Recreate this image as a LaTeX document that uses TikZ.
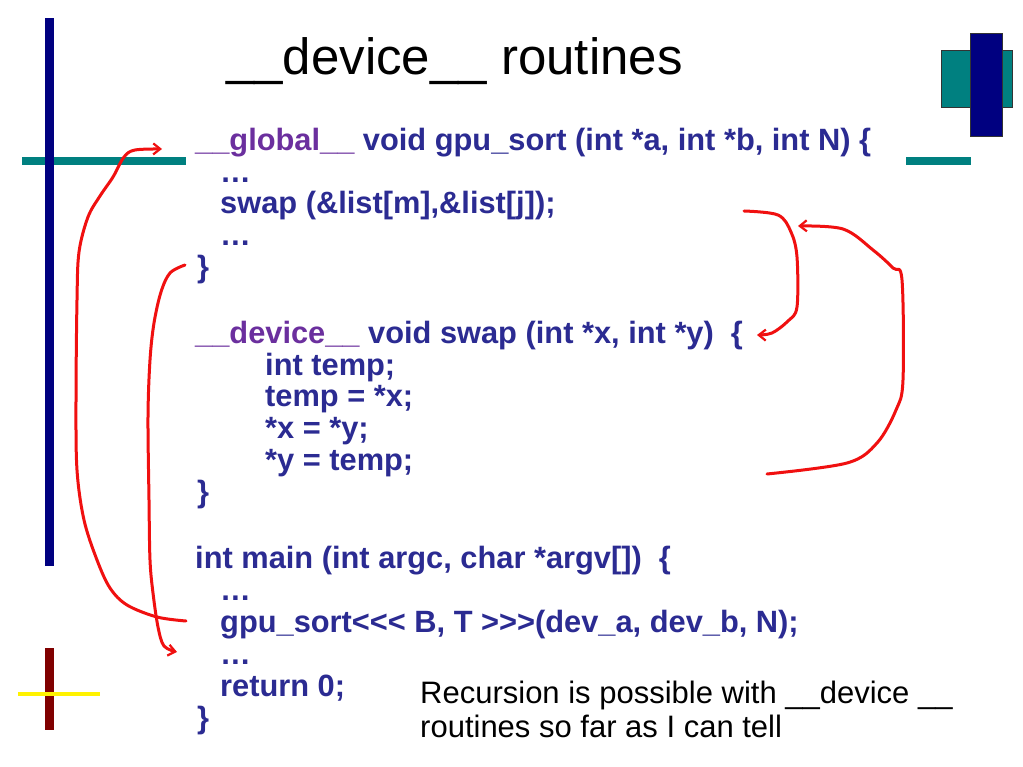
\documentclass[tikz,border=0pt]{standalone}
\usepackage{fontspec}
\setmainfont{Liberation Sans}
\usetikzlibrary{arrows.meta}
\definecolor{navybar}{HTML}{000080}
\definecolor{tealbar}{HTML}{008080}
\definecolor{darkredbar}{HTML}{800000}
\definecolor{codeblue}{HTML}{2B2B92}
\definecolor{kwpurple}{HTML}{6B2F9E}
\definecolor{penred}{HTML}{F01010}
\tikzset{
  code/.style={anchor=base west, inner sep=0pt, text=codeblue, font=\fontsize{30.8}{34}\selectfont\bfseries},
  titletext/.style={anchor=base west, inner sep=0pt, text=black, font=\fontsize{51}{60}\selectfont},
  note/.style={anchor=base west, inner sep=0pt, text=black, font=\fontsize{31}{34}\selectfont},
  pen/.style={draw=penred, line width=3pt, line cap=round, line join=round},
  penarrow/.style={pen, -{Straight Barb[length=7pt,width=11pt,line width=2.2pt]}},
}
\newcommand{\kw}[1]{\textcolor{kwpurple}{#1}}
\begin{document}
\begin{tikzpicture}[x=1pt,y=-1pt]
\useasboundingbox (0,0) rectangle (1023,767);
\fill[white] (0,0) rectangle (1023,767);
% decorative bars
\fill[tealbar] (22,157) rectangle (186,165);
\fill[navybar] (45,18) rectangle (54,566);
\fill[tealbar] (906,157) rectangle (971,165);
\filldraw[fill=tealbar, draw=black!80, line width=0.8pt] (941,50) rectangle (1012,107);
\filldraw[fill=navybar, draw=black!80, line width=0.8pt] (970,33) rectangle (1002,136);
\fill[darkredbar] (45,648) rectangle (54,730);
\fill[yellow] (18,692) rectangle (100,696);
% title
\node[titletext] (title) at (226,75) {\_\_device\_\_ routines};
% code
\node[code] (l1) at (195,151) {\kw{\_\_global\_\_} void gpu\_sort (int *a, int *b, int N) \{};
\node[code] (l2) at (220,183) {…};
\node[code] (l3) at (220,214) {swap (\&list[m],\&list[j]);};
\node[code] (l4) at (220,246) {…};
\node[code] (l5) at (197,278) {\}};
\node[code] (l7) at (195,344) {\kw{\_\_device\_\_} void swap (int *x, int *y)\ \ \{};
\node[code] (l8) at (265,375) {int temp;};
\node[code] (l9) at (265,406) {temp = *x;};
\node[code] (l10) at (265,438) {*x = *y;};
\node[code] (l11) at (265,470) {*y = temp;};
\node[code] (l12) at (197,502) {\}};
\node[code] (l14) at (195,568) {int main (int argc, char *argv[])\ \ \{};
\node[code] (l15) at (220,600) {…};
\node[code] (l16) at (220,632) {gpu\_sort<{}<{}< B, T >{}>{}>(dev\_a, dev\_b, N);};
\node[code] (l17) at (220,664) {…};
\node[code] (l18) at (220,696) {return 0;};
\node[code] (l19) at (197,728) {\}};
% note
\node[note] (n1) at (420,703) {Recursion is possible with \_\_device \_\_};
\node[note] (n2) at (420,737) {routines so far as I can tell};
% pen connectors
\coordinate (a1s) at (186,621);
\coordinate (a1e) at (162,149);
\coordinate (a2s) at (185,265);
\coordinate (a2e) at (177,652);
\coordinate (a3s) at (744,211);
\coordinate (a3e) at (757,335);
\coordinate (a4s) at (767,474);
\coordinate (a4e) at (798,226);
\draw[penarrow] plot[smooth, tension=0.55] coordinates {(a1s) (157,617) (127,605) (110,588) (97,560) (84,520) (77,470) (76,400) (77,300) (79,252) (88,217) (100,196) (113,177) (124,157) (135,150) (a1e)};
\draw[penarrow] plot[smooth, tension=0.55] coordinates {(a2s) (170,273) (161,292) (154,323) (150,360) (148,417) (149,500) (150,560) (153,593) (158,627) (164,646) (a2e)};
\draw[penarrow] plot[smooth, tension=0.55] coordinates {(a3s) (778,215) (791,232) (797,257) (797,307) (788,321) (772,333) (a3e)};
\draw[penarrow] plot[smooth, tension=0.55] coordinates {(a4s) (847,463) (877,443) (896,410) (903,380) (902,280) (893,268) (873,250) (843,229) (a4e)};
\end{tikzpicture}
\end{document}
